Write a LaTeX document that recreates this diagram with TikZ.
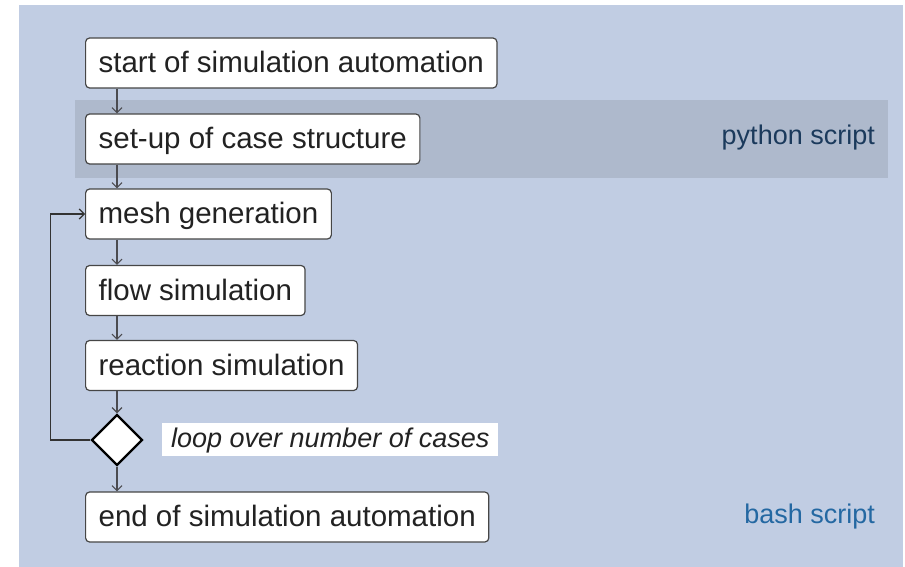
\documentclass[tikz,border=0pt]{standalone}
\usepackage{fontspec}
\setmainfont{Liberation Sans}
\usetikzlibrary{shapes.geometric,arrows.meta}
\definecolor{bgblue}{RGB}{193,205,227}
\definecolor{bandgray}{RGB}{174,185,204}
\definecolor{pytext}{RGB}{27,58,92}
\definecolor{shtext}{RGB}{36,104,162}
\definecolor{boxline}{RGB}{70,70,70}
\definecolor{arrline}{RGB}{75,75,80}
\definecolor{bodytext}{RGB}{34,34,34}
\tikzset{
  stepbox/.style={draw=boxline, line width=1.2pt, fill=white, rounded corners=4pt,
    anchor=west, minimum height=50pt, inner xsep=13pt, inner ysep=0pt,
    text=bodytext, text height=25pt, text depth=6pt, font=\fontsize{29.5}{32}\selectfont},
  arr/.style={draw=arrline, line width=1.1pt, -{Straight Barb[length=5pt,width=10pt]}},
  looparr/.style={draw=black!80, line width=1.2pt, -{Straight Barb[length=5pt,width=10pt]}},
  decision/.style={diamond, draw=black, line width=2.4pt, fill=white, aspect=1,
    minimum width=51pt, minimum height=51pt, inner sep=0pt},
  sidelabel/.style={anchor=base east, font=\fontsize{27}{30}\selectfont, inner sep=0pt},
  note/.style={fill=white, anchor=west, inner xsep=9pt, inner ysep=0pt,
    minimum height=33pt, text height=20pt, text depth=5pt, text=bodytext,
    font=\fontsize{27}{30}\selectfont\itshape}
}
\begin{document}
\begin{tikzpicture}[x=1pt,y=1pt]
  \useasboundingbox (0,0) rectangle (905,-567);
  % background and python band
  \fill[bgblue] (19,-5) rectangle (903,-567);
  \fill[bandgray] (75,-100) rectangle (888,-178);

  % process steps
  \node[stepbox] (start) at (85,-63) {start of simulation automation};
  \node[stepbox] (setup) at (85,-139) {set-up of case structure};
  \node[stepbox] (mesh)  at (85,-214) {mesh generation};
  \node[stepbox] (flow)  at (85,-290.5) {flow simulation};
  \node[stepbox] (react) at (85,-365.5) {reaction simulation};
  \node[decision] (dia) at (117,-440) {};
  \node[note] (loop) at (162,-439.5) {loop over number of cases};
  \node[stepbox] (finish) at (85,-517) {end of simulation automation};

  % side labels
  \node[sidelabel, text=pytext] (py) at (875,-145) {python script};
  \node[sidelabel, text=shtext] (sh) at (875,-523) {bash script};

  % connectors
  \draw[arr] ([xshift=32pt]start.south west) -- ([xshift=32pt]setup.north west);
  \draw[arr] ([xshift=32pt]setup.south west) -- ([xshift=32pt]mesh.north west);
  \draw[arr] ([xshift=32pt]mesh.south west) -- ([xshift=32pt]flow.north west);
  \draw[arr] ([xshift=32pt]flow.south west) -- ([xshift=32pt]react.north west);
  \draw[arr] ([xshift=32pt]react.south west) -- (dia.north);
  \draw[arr] (dia.south) -- ([xshift=32pt]finish.north west);
  \draw[looparr] (dia.west) -- ++(-40,0) |- (mesh.west);
\end{tikzpicture}
\end{document}
